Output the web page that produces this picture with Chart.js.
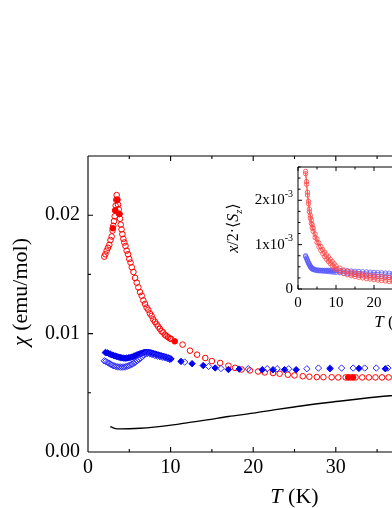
<!DOCTYPE html>
<html lang="en">
<head>
<meta charset="UTF-8" />
<title>chi(T)</title>
<script src="https://cdn.jsdelivr.net/npm/chart.js@4"></script>
<style>
	html, body { margin: 0; padding: 0; background: #fff; overflow: hidden; }
	.wrap { position: relative; width: 392px; height: 508px; overflow: hidden; }
	#main { position: absolute; left: 0; top: 0; }
	#inset { position: absolute; left: 220px; top: 150px; }
</style>
</head>
<body>
<div class="wrap">
	<canvas id="main" width="520" height="508"></canvas>
	<canvas id="inset" width="290" height="190"></canvas>
</div>
<script>
// ---- main panel data (T in K, chi in emu/mol) ----
const redOpenT = [1.97,2.1,2.26,2.42,2.58,2.72,2.87,2.97,3.06,3.15,
	3.23,3.3,3.35,3.42,3.47,3.55,3.63,3.72,3.8,3.88,
	3.96,4.06,4.16,4.28,4.4,4.54,4.68,4.85,5.0,5.15,
	5.3,5.5,5.7,5.9,6.1,6.3,6.5,6.7,6.9,7.1,
	7.3,7.5,7.7,7.9,8.1,8.3,8.5,8.7,8.9,9.1,
	9.3,9.5,9.7,9.9,10.05,11.45,12.35,13.2,14.2,15.0,
	16.0,17.0,17.8,18.6,19.6,20.6,21.4,22.4,23.2,24.2,
	25.0,26.0,26.8,27.7,28.5,29.5,30.3,31.2,31.8,32.4,
	33.2,34.0,34.8,35.6,36.4,37.2];
const redOpenChi = [0.0165,0.0167,0.0170,0.01725,0.0175,0.0179,0.0182,0.0187,0.0191,0.0195,
	0.0199,0.0204,0.0208,0.0213,0.0217,0.0213,0.0209,0.0205,0.0201,0.0197,
	0.0192,0.0188,0.0184,0.0180,0.0177,0.0174,0.0170,0.0167,0.0163,0.0160,
	0.0156,0.0152,0.0147,0.0143,0.0139,0.0135,0.0132,0.0128,0.0125,0.0122,
	0.0120,0.0117,0.0115,0.0112,0.0110,0.0108,0.0106,0.0104,0.0102,0.0101,
	0.0099,0.0098,0.0097,0.0096,0.00955,0.00907,0.00856,0.00822,0.00794,0.00768,
	0.00752,0.00729,0.00711,0.00697,0.00689,0.0068,0.00672,0.00667,0.00661,0.00653,
	0.00647,0.0064,0.00636,0.00633,0.00632,0.00631,0.0063,0.0063,0.0063,0.0063,
	0.0063,0.0063,0.0063,0.0063,0.0063,0.0063];
const redFilledT = [3.0,3.3,3.55,3.8,10.5,31.5,32.1];
const redFilledChi = [0.0189,0.0204,0.0213,0.0201,0.00935,0.0063,0.0063];

const blueFilledT = [2.1,2.3,2.5,2.7,2.9,3.1,3.3,3.5,3.7,3.9,
	4.1,4.3,4.5,4.7,4.9,5.1,5.3,5.5,5.7,5.9,
	6.1,6.3,6.5,6.7,6.9,7.1,7.3,7.5,7.7,7.9,
	8.1,8.3,8.5,8.7,8.9,9.1,9.3,9.5,9.7,9.9,
	10.05,11.26,12.6,13.95,15.4,17.0,18.3,21.1,22.4,23.8,
	25.2,29.3,32.8,36.0];
const blueFilledChi = [0.0084,0.00838,0.00832,0.00826,0.0082,0.00815,0.00811,0.00806,0.00802,0.00798,
	0.00795,0.00793,0.00792,0.00793,0.00795,0.00798,0.00802,0.00807,0.00813,0.00819,
	0.00825,0.0083,0.00835,0.00839,0.00842,0.00843,0.00842,0.0084,0.00836,0.00832,
	0.00828,0.00824,0.0082,0.00816,0.00812,0.00808,0.00804,0.008,0.00795,0.0079,
	0.00786,0.00765,0.00746,0.0073,0.0071,0.00697,0.007,0.00695,0.00695,0.00695,
	0.00695,0.00703,0.00706,0.00703];
const blueOpenT = [1.97,2.15,2.35,2.55,2.75,2.95,3.15,3.35,3.55,3.75,
	3.95,4.15,4.35,4.55,4.75,4.95,5.15,5.35,5.55,5.75,
	5.95,6.15,6.35,6.55,6.75,6.95,7.2,7.5,7.8,8.1,
	8.4,8.7,9.0,9.3,9.6,9.9,11.7,14.6,16.1,19.4,
	21.7,22.9,24.3,26.5,27.9,29.3,30.7,32.1,33.5,34.9,
	36.3];
const blueOpenChi = [0.0077,0.00765,0.00757,0.00749,0.00741,0.00734,0.00728,0.00723,0.0072,0.00718,
	0.00717,0.00717,0.00718,0.0072,0.00724,0.00729,0.00735,0.00742,0.00751,0.0076,
	0.0077,0.00781,0.00792,0.00805,0.00817,0.00828,0.00833,0.00828,0.00821,0.00815,
	0.0081,0.00805,0.008,0.00795,0.00789,0.00781,0.0076,0.00723,0.00705,0.00703,
	0.00703,0.00703,0.00703,0.00703,0.00709,0.00709,0.00709,0.00709,0.00709,0.00709,
	0.00709];

const blackT = [2.7,3.2,3.9,5,6.3,8,10.3,12.3,14.4,17,20,22.5,25.3,27.5,30,33,36.6,37.5];
const blackChi = [0.00215,0.002,0.00195,0.00196,0.002,0.0021,0.00229,0.0025,0.00271,0.003,
	0.00328,0.00356,0.00384,0.00405,0.00426,0.0045,0.00475,0.0048];

const mainXTicks = [0, 10, 20, 30, 40, 50];
const mainYTicks = [0, 0.01, 0.02];

// ---- inset data (values in units of 1e-3) ----
const insetT = [2,2.25,2.5,2.75,3,3.25,3.5,3.75,4,
	4.5,5,5.5,6,6.5,7,7.5,8,8.5,9,9.5,10,
	11,12,13,14,15,16,17,18,19,20,21,22,23,24,25,26];
const redUpper = [2.65,2.42,2.18,1.98,1.80,1.66,1.55,1.45,1.37,
	1.24,1.13,1.04,0.96,0.89,0.83,0.77,0.72,0.67,0.62,0.57,0.52,
	0.47,0.43,0.40,0.38,0.36,0.345,0.33,0.32,0.305,0.295,0.285,0.275,0.265,0.255,0.245,0.235];
const redLower = [2.6,2.36,2.12,1.92,1.74,1.6,1.48,1.38,1.3,
	1.16,1.05,0.95,0.87,0.8,0.73,0.67,0.62,0.57,0.52,0.48,0.44,
	0.39,0.35,0.32,0.30,0.28,0.265,0.25,0.235,0.225,0.21,0.2,0.19,0.18,0.17,0.16,0.15];
const blueUpper = [0.75,0.70,0.65,0.60,0.56,0.52,0.49,0.47,0.455,
	0.44,0.43,0.425,0.42,0.42,0.42,0.42,0.42,0.42,0.42,0.42,0.42,
	0.415,0.41,0.41,0.405,0.40,0.395,0.39,0.385,0.38,0.375,0.37,0.365,0.36,0.355,0.35,0.345];
const blueLower = [0.73,0.68,0.63,0.58,0.54,0.5,0.47,0.45,0.44,
	0.425,0.415,0.41,0.41,0.405,0.4,0.4,0.395,0.39,0.385,0.38,0.375,
	0.365,0.355,0.345,0.34,0.33,0.32,0.315,0.305,0.3,0.29,0.285,0.28,0.27,0.265,0.26,0.25];
const insetYTicks = [0, 1, 2];

const SERIF = '"Liberation Serif", "DejaVu Serif", serif';
Chart.defaults.font.family = SERIF;
Chart.defaults.color = "#000";

const pts = (xs, ys) => xs.map((t, i) => ({ x: t, y: ys[i] }));

function drawRuns(ctx, runs, x, y, align) {
	let w = 0;
	runs.forEach((r) => { ctx.font = r.font; w += ctx.measureText(r.t).width; });
	let cx = align === "center" ? x - w / 2 : align === "right" ? x - w : x;
	runs.forEach((r) => {
		ctx.font = r.font;
		ctx.fillText(r.t, cx, y + (r.dy || 0));
		cx += ctx.measureText(r.t).width;
	});
}

// frame + inward ticks on all four sides
const framePlugin = {
	id: "frame",
	afterDatasetsDraw(chart, args, o) {
		const { ctx, chartArea: a } = chart;
		const sx = chart.scales.x, sy = chart.scales.y;
		ctx.save();
		ctx.strokeStyle = "#000";
		ctx.lineWidth = o.lineWidth;
		ctx.beginPath();
		const seg = (x1, y1, x2, y2) => { ctx.moveTo(x1, y1); ctx.lineTo(x2, y2); };
		seg(a.left, a.top, a.right, a.top);
		seg(a.right, a.top, a.right, a.bottom);
		seg(a.right, a.bottom, a.left, a.bottom);
		seg(a.left, a.bottom, a.left, a.top);
		const nx = Math.round((sx.max - sx.min) / o.xMinor);
		for (let i = 0; i <= nx; i++) {
			const p = sx.getPixelForValue(sx.min + i * o.xMinor);
			const len = i % o.xEvery === 0 ? o.major : o.minor;
			seg(p, a.bottom, p, a.bottom - len);
			seg(p, a.top, p, a.top + len);
		}
		const ny = Math.round((sy.max - sy.min) / o.yMinor);
		for (let i = 0; i <= ny; i++) {
			const p = sy.getPixelForValue(sy.min + i * o.yMinor);
			const len = i % o.yEvery === 0 ? o.major : o.minor;
			seg(a.left, p, a.left + len, p);
			seg(a.right, p, a.right - len, p);
		}
		ctx.stroke();
		ctx.restore();
	},
};

const mainTitles = {
	id: "mainTitles",
	afterDraw(chart) {
		const { ctx, chartArea: a } = chart;
		ctx.save();
		ctx.fillStyle = "#000";
		ctx.textAlign = "left";
		ctx.textBaseline = "alphabetic";
		drawRuns(ctx, [
			{ t: "T", font: "italic 22px " + SERIF },
			{ t: " (K)", font: "22px " + SERIF },
		], (a.left + a.right) / 2, 503, "center");
		ctx.translate(27, 292);
		ctx.rotate(-Math.PI / 2);
		drawRuns(ctx, [
			{ t: "χ", font: "italic 22px " + SERIF },
			{ t: " (emu/mol)", font: "22px " + SERIF },
		], 0, 0, "center");
		ctx.restore();
	},
};

const insetTitles = {
	id: "insetTitles",
	afterDraw(chart) {
		const { ctx, chartArea: a } = chart;
		const sy = chart.scales.y;
		ctx.save();
		ctx.fillStyle = "#000";
		ctx.textAlign = "left";
		ctx.textBaseline = "middle";
		insetYTicks.forEach((v) => {
			const y = sy.getPixelForValue(v);
			const runs = v === 0
				? [{ t: "0", font: "15px " + SERIF }]
				: [{ t: v + "x10", font: "15px " + SERIF }, { t: "-3", font: "10px " + SERIF, dy: -6 }];
			drawRuns(ctx, runs, a.left - 5, y, "right");
		});
		ctx.textBaseline = "alphabetic";
		drawRuns(ctx, [
			{ t: "T", font: "italic 17px " + SERIF },
			{ t: " (K)", font: "17px " + SERIF },
		], (a.left + a.right) / 2, 177, "center");
		ctx.translate(18, (a.top + a.bottom) / 2);
		ctx.rotate(-Math.PI / 2);
		drawRuns(ctx, [
			{ t: "x", font: "italic 16px " + SERIF },
			{ t: "/2·⟨", font: "16px " + SERIF },
			{ t: "S", font: "italic 16px " + SERIF },
			{ t: "z", font: "italic 11px " + SERIF, dy: 4 },
			{ t: "⟩", font: "16px " + SERIF },
		], 0, 0, "center");
		ctx.restore();
	},
};

const openCircle = (color, r) => ({
	pointStyle: "circle", pointRadius: r, pointBorderWidth: 1,
	pointBorderColor: color, pointBackgroundColor: "rgba(0,0,0,0)", showLine: false,
});

new Chart(document.getElementById("main"), {
	type: "scatter",
	data: {
		datasets: [
			{ data: pts(blackT, blackChi), showLine: true, borderColor: "#000", borderWidth: 1.4,
				pointRadius: 0, cubicInterpolationMode: "monotone" },
			{ data: pts(blueOpenT, blueOpenChi), pointStyle: "rectRot", pointRadius: 3.2,
				pointBorderWidth: 1, pointBorderColor: "#2a2aff", pointBackgroundColor: "rgba(0,0,0,0)" },
			{ data: pts(blueFilledT, blueFilledChi), pointStyle: "rectRot", pointRadius: 3.2,
				pointBorderWidth: 1, pointBorderColor: "#0000ee", pointBackgroundColor: "#0000ee" },
			{ data: pts(redOpenT, redOpenChi), ...openCircle("#ff0000", 2.8) },
			{ data: pts(redFilledT, redFilledChi), pointStyle: "circle", pointRadius: 2.8,
				pointBorderWidth: 1, pointBorderColor: "#ff0000", pointBackgroundColor: "#ff0000" },
		],
	},
	options: {
		responsive: false,
		animation: false,
		layout: { padding: { top: 156, right: 19, left: 0, bottom: 0 } },
		plugins: {
			legend: { display: false },
			tooltip: { enabled: false },
			frame: { lineWidth: 1.1, xMinor: 5, xEvery: 2, yMinor: 0.005, yEvery: 2, major: 5, minor: 3 },
		},
		scales: {
			x: {
				type: "linear", min: 0, max: 50,
				grid: { display: false, drawTicks: false }, border: { display: false },
				afterBuildTicks: (s) => { s.ticks = mainXTicks.map((v) => ({ value: v })); },
				ticks: { font: { size: 20 }, padding: 4, maxRotation: 0, autoSkip: false },
				afterFit: (s) => { s.height = 56; },
			},
			y: {
				min: 0, max: 0.025,
				grid: { display: false, drawTicks: false }, border: { display: false },
				afterBuildTicks: (s) => { s.ticks = mainYTicks.map((v) => ({ value: v })); },
				ticks: { font: { size: 20 }, padding: 8, callback: (v) => v.toFixed(2) },
				afterFit: (s) => { s.width = 88; },
			},
		},
	},
	plugins: [framePlugin, mainTitles],
});

const insetLine = (color) => ({
	showLine: true, borderColor: color, borderWidth: 0.8,
	pointStyle: "circle", pointRadius: 2.2, pointBorderWidth: 0.8,
	pointBorderColor: color, pointBackgroundColor: "rgba(0,0,0,0)",
});

new Chart(document.getElementById("inset"), {
	type: "scatter",
	data: {
		datasets: [
			{ data: pts(insetT, redUpper), ...insetLine("rgb(255,70,70)") },
			{ data: pts(insetT, redLower), ...insetLine("rgb(255,70,70)") },
			{ data: pts(insetT, blueUpper), ...insetLine("rgb(90,90,255)") },
			{ data: pts(insetT, blueLower), ...insetLine("rgb(90,90,255)") },
		],
	},
	options: {
		responsive: false,
		animation: false,
		layout: { padding: { top: 17, right: 22, left: 0, bottom: 0 } },
		plugins: {
			legend: { display: false },
			tooltip: { enabled: false },
			frame: { lineWidth: 1, xMinor: 5, xEvery: 2, yMinor: 0.25, yEvery: 4, major: 4, minor: 2.5 },
		},
		scales: {
			x: {
				type: "linear", min: 0, max: 50,
				grid: { display: false, drawTicks: false }, border: { display: false },
				afterBuildTicks: (s) => { s.ticks = mainXTicks.map((v) => ({ value: v })); },
				ticks: { font: { size: 15 }, padding: 5, maxRotation: 0, autoSkip: false },
				afterFit: (s) => { s.height = 51; },
			},
			y: {
				min: 0, max: 2.75,
				grid: { display: false, drawTicks: false }, border: { display: false },
				ticks: { display: false },
				afterFit: (s) => { s.width = 78; },
			},
		},
	},
	plugins: [framePlugin, insetTitles],
});
</script>
</body>
</html>
